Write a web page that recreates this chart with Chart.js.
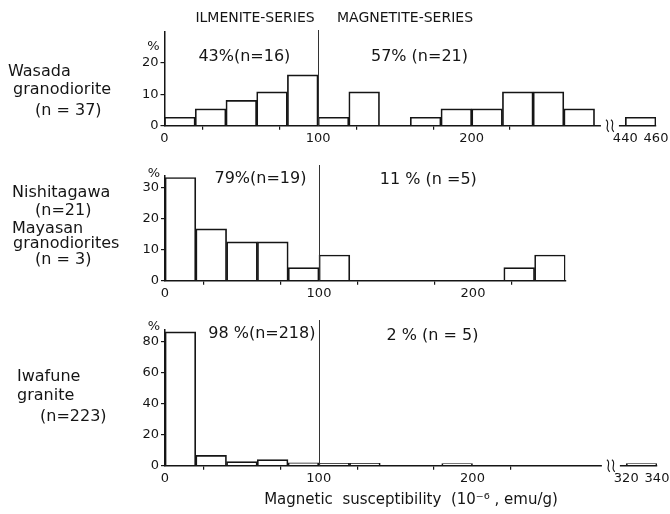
<!DOCTYPE html>
<html>
<head>
<meta charset="utf-8">
<script src="https://cdn.jsdelivr.net/npm/chart.js@4/dist/chart.umd.min.js"></script>
<style>
  html, body { margin: 0; padding: 0; background: #fff; }
  #wrap { position: relative; width: 670px; height: 514px; overflow: hidden; }
  canvas { position: absolute; left: 0; }
</style>
</head>
<body>
<div id="wrap">
  <canvas id="wasada" width="670" height="150" style="top:0px"></canvas>
  <canvas id="nishi" width="670" height="150" style="top:150px"></canvas>
  <canvas id="iwafune" width="670" height="214" style="top:300px"></canvas>
</div>
<script>
// bins are 20 units wide (10^-6 emu/g), values in % of samples
const binStarts = [0, 20, 40, 60, 80, 100, 120, 140, 160, 180, 200, 220, 240, 260];
const wasadaPct = [2.7, 5.4, 8.1, 10.8, 16.2, 2.7, 10.8, 0, 2.7, 5.4, 5.4, 10.8, 10.8, 5.4];
const wasadaFarBins = [440];
const wasadaFarPct = [2.7];
const wasadaFarTicks = [440, 460];

const nishiPct = [33.3, 16.7, 12.5, 12.5, 4.2, 8.3, 0, 0, 0, 0, 0, 4.2, 8.3];

const iwafunePct = [86.5, 6.7, 2.7, 4.0, 1.9, 1.6, 1.6, 0, 0, 1.3, 0, 0, 0, 0];
const iwafuneFarBins = [320];
const iwafuneFarPct = [1.3];
const iwafuneFarTicks = [320, 340];

const xMajor = [0, 100, 200];
const xMinor = [50, 150, 250];
const wasadaYTicks = [0, 10, 20];
const nishiYTicks = [0, 10, 20, 30];
const iwafuneYTicks = [0, 20, 40, 60, 80];

const seriesHeaders = ['ILMENITE-SERIES', 'MAGNETITE-SERIES'];
const wasadaNotes = ['43%(n=16)', '57% (n=21)'];
const nishiNotes = ['79%(n=19)', '11 % (n =5)'];
const iwafuneNotes = ['98 %(n=218)', '2 % (n = 5)'];
const wasadaName = ['Wasada', 'granodiorite', '(n = 37)'];
const nishiName = ['Nishitagawa', '(n=21)', 'Mayasan', 'granodiorites', '(n = 3)'];
const iwafuneName = ['Iwafune', 'granite', '(n=223)'];
const xTitle = 'Magnetic  susceptibility  (10⁻⁶ , emu/g)';

const INK = '#151515';
const FONT = '"DejaVu Sans", sans-serif';
Chart.defaults.font.family = FONT;

function drawBreak(ctx, x, y) {
  ctx.save();
  ctx.fillStyle = '#fff';
  ctx.fillRect(x - 9, y - 3, 18, 6);
  ctx.strokeStyle = INK;
  ctx.lineWidth = 1.1;
  [-2.5, 2.5].forEach(dx => {
    ctx.beginPath();
    ctx.moveTo(x + dx - 1.5, y - 6);
    ctx.bezierCurveTo(x + dx + 3.5, y - 3, x + dx - 3.5, y + 3, x + dx + 1.5, y + 6);
    ctx.stroke();
  });
  ctx.restore();
}

const deco = {
  id: 'deco',
  afterDraw(chart, args, o) {
    const ctx = chart.ctx;
    const xs = chart.scales.x;
    const area = chart.chartArea;
    ctx.save();
    // ilmenite / magnetite boundary
    const bx = Math.round(xs.getPixelForValue(100)) + 0.5;
    ctx.strokeStyle = '#333';
    ctx.lineWidth = 1;
    ctx.beginPath();
    ctx.moveTo(bx, o.sepTop);
    ctx.lineTo(bx, area.bottom);
    ctx.stroke();

    ctx.fillStyle = INK;
    ctx.textBaseline = 'alphabetic';
    // "%" unit mark
    ctx.font = '13px ' + FONT;
    ctx.textAlign = 'right';
    ctx.fillText('%', area.left - 5, o.pctY);

    ctx.font = '16px ' + FONT;
    ctx.textAlign = 'center';
    o.notes.forEach((t, i) => ctx.fillText(t, xs.getPixelForValue(o.noteX[i]), o.noteY[i]));

    ctx.textAlign = 'left';
    o.name.forEach((t, i) => ctx.fillText(t, o.nameX[i], o.nameY[i]));

    if (o.headers) {
      ctx.font = '14px ' + FONT;
      ctx.textAlign = 'center';
      o.headers.forEach((t, i) => ctx.fillText(t, o.headerX[i], 22));
    }
    if (o.brk) drawBreak(ctx, xs.getPixelForValue(290), area.bottom);
    ctx.restore();
  }
};

function makePanel(id, o) {
  const shift = o.farTicks ? o.farTicks[0] - 300 : 0;
  const pts = o.pct.map((v, i) => ({ x: binStarts[i] + 10, y: v }));
  if (o.farBins) o.farBins.forEach((b, i) => pts.push({ x: b - shift + 10, y: o.farPct[i] }));
  const xTicks = [...xMajor, ...xMinor].filter(v => v <= o.xMax).sort((a, b) => a - b);
  const farPos = o.farTicks ? o.farTicks.map(v => v - shift) : [];

  return new Chart(document.getElementById(id), {
    type: 'bar',
    data: {
      datasets: [{
        data: pts,
        backgroundColor: '#fff',
        borderColor: INK,
        borderWidth: 1.7,
        borderSkipped: 'start',
        categoryPercentage: 1,
        barPercentage: 1
      }]
    },
    options: {
      responsive: false,
      animation: false,
      layout: { padding: o.pad },
      plugins: {
        legend: { display: false },
        tooltip: { enabled: false },
        deco: o.deco
      },
      scales: {
        x: {
          type: 'linear',
          min: 0,
          max: o.xMax,
          offset: false,
          afterBuildTicks: s => { s.ticks = [...xTicks, ...farPos].map(v => ({ value: v })); },
          afterFit: s => { s.height = o.xH; s.paddingLeft = 0; s.paddingRight = 0; },
          ticks: {
            autoSkip: false,
            maxRotation: 0,
            padding: 1,
            color: INK,
            font: { size: 13 },
            callback: v => xMinor.includes(v) ? '' : String(v >= 300 ? v + shift : v)
          },
          grid: {
            drawOnChartArea: false,
            tickLength: 4,
            lineWidth: 1.2,
            tickColor: c => (c.tick && c.tick.value >= 300) ? 'rgba(0,0,0,0)' : INK
          },
          border: { color: INK, width: 1.5 },
          title: o.title ? {
            display: true,
            text: o.title,
            color: INK,
            font: { size: 15 },
            padding: { top: 0, bottom: 5 }
          } : { display: false }
        },
        y: {
          min: 0,
          max: o.yMax,
          afterBuildTicks: s => { s.ticks = o.yTicks.map(v => ({ value: v })); },
          afterFit: s => { s.width = o.yW; s.paddingTop = 0; s.paddingBottom = 0; },
          ticks: { padding: 2, color: INK, font: { size: 13 } },
          grid: { drawOnChartArea: false, tickLength: 4, lineWidth: 1.2, tickColor: INK },
          border: { color: INK, width: 1.5 }
        }
      }
    },
    plugins: [deco]
  });
}

makePanel('wasada', {
  pct: wasadaPct, farBins: wasadaFarBins, farPct: wasadaFarPct, farTicks: wasadaFarTicks,
  xMax: 320, yMax: 30, yTicks: wasadaYTicks,
  pad: { top: 31.7, right: 14, bottom: 0, left: 0 }, yW: 164.5, xH: 24.3,
  deco: {
    sepTop: 30, pctY: 50, brk: true,
    notes: wasadaNotes, noteX: [52, 166], noteY: [61, 61],
    name: wasadaName, nameX: [8, 13, 35], nameY: [76, 94, 115],
    headers: seriesHeaders, headerX: [255, 405]
  }
});

makePanel('nishi', {
  pct: nishiPct,
  xMax: 260, yMax: 34, yTicks: nishiYTicks,
  pad: { top: 25.3, right: 104.6, bottom: 0, left: 0 }, yW: 165, xH: 19.3,
  deco: {
    sepTop: 15, pctY: 27,
    notes: nishiNotes, noteX: [62, 171], noteY: [33, 34],
    name: nishiName, nameX: [12, 35, 12, 13, 35], nameY: [47, 65, 83, 98, 114]
  }
});

makePanel('iwafune', {
  pct: iwafunePct, farBins: iwafuneFarBins, farPct: iwafuneFarPct, farTicks: iwafuneFarTicks,
  xMax: 320, yMax: 88, yTicks: iwafuneYTicks,
  pad: { top: 29.6, right: 13, bottom: 0, left: 0 }, yW: 165, xH: 48.3,
  title: xTitle,
  deco: {
    sepTop: 20, pctY: 30, brk: true,
    notes: iwafuneNotes, noteX: [63, 174], noteY: [38, 40],
    name: iwafuneName, nameX: [17, 17, 40], nameY: [81, 100, 121]
  }
});
</script>
</body>
</html>
